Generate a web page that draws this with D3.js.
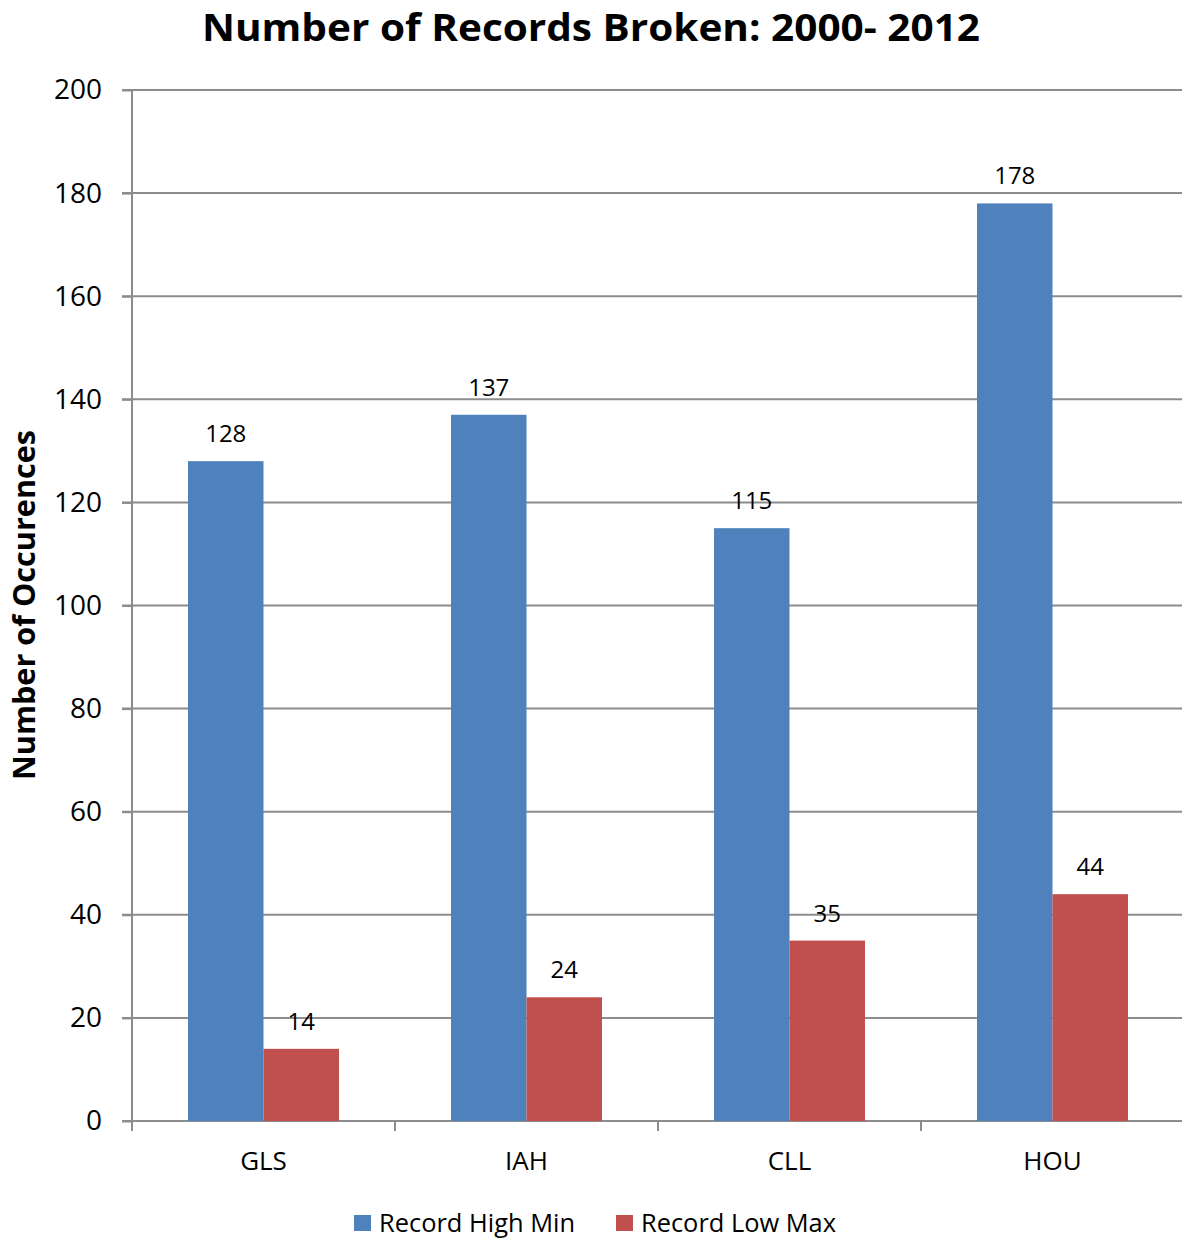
<!DOCTYPE html>
<html><head><meta charset="utf-8">
<script src="https://cdn.jsdelivr.net/npm/d3@7"></script>
<style>body{margin:0;background:#fff}svg{display:block}text{font-family:"Open Sans",sans-serif}</style>
</head><body>
<svg id="c" width="1182" height="1239"></svg>
<script>
const categories = ["GLS","IAH","CLL","HOU"];
const seriesNames = ["Record High Min","Record Low Max"];
const highMin = [128,137,115,178];
const lowMax = [14,24,35,44];
const yTicks = [0,20,40,60,80,100,120,140,160,180,200];
const colors = ["#4F81BD","#C0504D"];

const svg = d3.select("#c");
const L = 132, R = 1182, T = 90, B = 1121;
const y = d3.scaleLinear().domain([0,200]).range([B,T]);
const x = d3.scaleBand().domain(categories).range([L, L + 263*4]).paddingInner(0).paddingOuter(0);
const inner = d3.scaleBand().domain(seriesNames).range([56, 263-56]);

// gridlines
svg.append("g").selectAll("line").data(yTicks).join("line")
  .attr("x1", L-10).attr("x2", R).attr("y1", d=>y(d)).attr("y2", d=>y(d))
  .attr("stroke","#8c8c8c").attr("stroke-width",2);

// y axis
const ya = svg.append("g").attr("transform",`translate(${L},0)`)
  .call(d3.axisLeft(y).tickValues(yTicks).tickSize(10).tickPadding(20));
ya.select(".domain").attr("stroke","#8c8c8c").attr("stroke-width",2).attr("d",`M0,${T}V${B}`);
ya.selectAll(".tick line").attr("stroke","#8c8c8c").attr("stroke-width",2);
ya.selectAll(".tick text").attr("font-size",28).attr("fill","#000").attr("font-family","Open Sans");

// x axis
const xa = svg.append("g").attr("transform",`translate(0,${B})`)
  .call(d3.axisBottom(x).tickSize(0).tickPadding(31));
xa.select(".domain").attr("stroke","#8c8c8c").attr("stroke-width",2).attr("d",`M${L-10},0H${R}`);
xa.selectAll(".tick text").attr("font-size",26).attr("fill","#000").attr("font-family","Open Sans");
const bounds = categories.map(c=>x(c)).concat([x(categories[3])+x.bandwidth()]).filter(v=>v<R);
svg.append("g").selectAll("line").data(bounds).join("line")
  .attr("x1",d=>d).attr("x2",d=>d).attr("y1",B).attr("y2",B+10)
  .attr("stroke","#8c8c8c").attr("stroke-width",2);

// bars
const data = [highMin, lowMax];
data.forEach((vals, si) => {
  const g = svg.append("g");
  g.selectAll("rect").data(vals).join("rect")
    .attr("x",(d,i)=>x(categories[i])+inner(seriesNames[si]))
    .attr("width",inner.bandwidth())
    .attr("y",d=>y(d)).attr("height",d=>B-y(d))
    .attr("fill",colors[si]);
  g.selectAll("text").data(vals).join("text")
    .attr("x",(d,i)=>x(categories[i])+inner(seriesNames[si])+inner.bandwidth()/2)
    .attr("y",d=>y(d)-19)
    .attr("text-anchor","middle").attr("font-size",24).attr("fill","#000")
    .text(d=>d);
});

// title
svg.append("text").attr("x",591).attr("y",41).attr("text-anchor","middle")
  .attr("font-size",38).attr("font-weight","bold")
  .attr("textLength",778).attr("lengthAdjust","spacingAndGlyphs")
  .text("Number of Records Broken: 2000- 2012");

// y title
svg.append("text").attr("transform","translate(35,605) rotate(-90)").attr("text-anchor","middle")
  .attr("font-size",30).attr("font-weight","bold")
  .attr("textLength",350).attr("lengthAdjust","spacingAndGlyphs")
  .text("Number of Occurences");

// legend
const legX = [354, 616];
const legW = [196, 195];
const leg = svg.append("g");
seriesNames.forEach((n,i)=>{
  leg.append("rect").attr("x",legX[i]).attr("y",1215).attr("width",17).attr("height",16).attr("fill",colors[i]);
  leg.append("text").attr("x",legX[i]+25).attr("y",1232).attr("font-size",25).attr("fill","#000")
    .attr("textLength",legW[i]).attr("lengthAdjust","spacingAndGlyphs").text(n);
});
</script>
</body></html>
